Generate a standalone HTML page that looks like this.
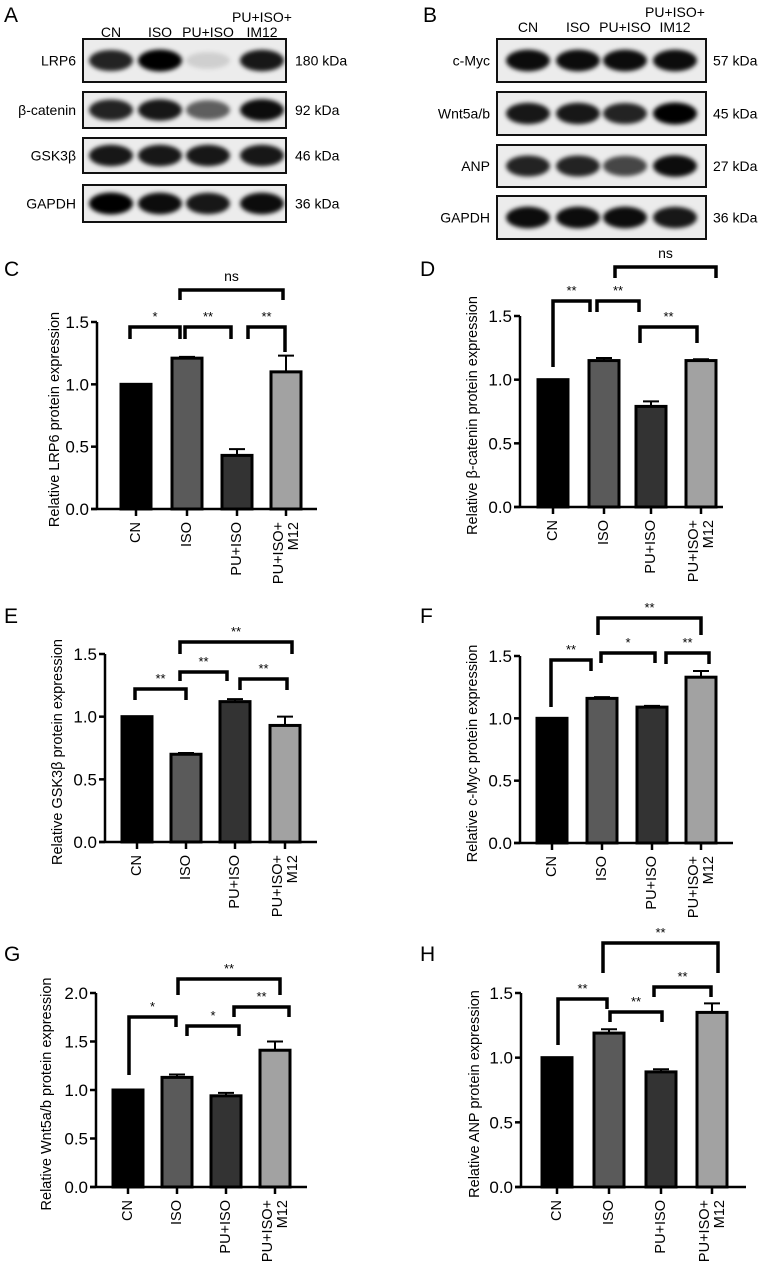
<!DOCTYPE html>
<html><head><meta charset="utf-8"><style>
body{margin:0;background:#fff;}
svg{display:block;font-family:"Liberation Sans",Arial,sans-serif;}
</style></head><body>
<svg id="fig" width="765" height="1266" viewBox="0 0 765 1266">
<defs><filter id="blur" x="-30%" y="-60%" width="160%" height="220%"><feGaussianBlur stdDeviation="2.2"/></filter></defs>
</svg>
<script>
const NS='http://www.w3.org/2000/svg';
const fig=document.getElementById('fig');
function mk(tag,attrs,parent){const e=document.createElementNS(NS,tag);for(const k in attrs)e.setAttribute(k,attrs[k]);(parent||fig).appendChild(e);return e;}
function txt(s,attrs,parent){const e=mk('text',attrs,parent);e.textContent=s;return e;}

// ---- shared categories ----
const categories=['CN','ISO','PU+ISO','PU+ISO+ M12'];
const barColors=['#000000','#5a5a5a','#333333','#a2a2a2'];

// ---- chart data ----
const cValues=[1.0,1.21,0.43,1.10];
const cErrors=[0,0.01,0.05,0.13];
const dValues=[1.0,1.15,0.79,1.15];
const dErrors=[0,0.02,0.04,0.01];
const eValues=[1.0,0.70,1.12,0.93];
const eErrors=[0,0.01,0.02,0.07];
const fValues=[1.0,1.16,1.09,1.33];
const fErrors=[0,0.01,0.01,0.05];
const gValues=[1.0,1.13,0.94,1.41];
const gErrors=[0,0.03,0.03,0.09];
const hValues=[1.0,1.19,0.89,1.35];
const hErrors=[0,0.03,0.02,0.07];
const ticks15=['0.0','0.5','1.0','1.5'];
const ticks20=['0.0','0.5','1.0','1.5','2.0'];

// ---- blot data ----
const blotALabels=['LRP6','β-catenin','GSK3β','GAPDH'];
const blotAKda=['180 kDa','92 kDa','46 kDa','36 kDa'];
const blotBLabels=['c-Myc','Wnt5a/b','ANP','GAPDH'];
const blotBKda=['57 kDa','45 kDa','27 kDa','36 kDa'];
// band intensity per lane (0..1)
const blotAIntensity=[[0.85,1.0,0.12,0.9],[0.85,0.9,0.6,0.95],[0.9,0.9,0.9,0.9],[1,0.95,0.9,0.95]];
const blotBIntensity=[[0.95,0.95,0.95,0.95],[0.9,0.9,0.85,1],[0.85,0.85,0.7,0.95],[0.95,0.95,0.95,0.9]];

function blot(panel,letter,lx,boxX,boxW,rows,lanes,headY,labels,kda,intens,kdaX){
  const g=mk('g',{});
  
  
  const L=txt(letter,{x:lx,y:22,'font-size':21},g);
  
  
  const hdr=['CN','ISO','PU+ISO','IM12'];
  hdr.forEach((h,i)=>{
    const t=txt(h,{x:lanes[i],y:headY,'font-size':14,'text-anchor':'middle'},g);
    
    
  });
  const t2=txt('PU+ISO+',{x:lanes[3],y:headY-15,'font-size':14,'text-anchor':'middle'},g);
  
  
  rows.forEach((r,ri)=>{
    const bx=mk('rect',{x:boxX,y:r[0],width:boxW,height:r[1]-r[0],fill:'#ececec',stroke:'#111','stroke-width':2},g);
    
    
    const cy=(r[0]+r[1])/2;
    lanes.forEach((lx2,li)=>{
      const v=intens[ri][li];
      const b=mk('ellipse',{cx:lx2,cy:cy,rx:22,ry:8+3*v,fill:'#000','fill-opacity':v,filter:'url(#blur)'},g);
      
      
    });
    const lb=txt(labels[ri],{x:boxX-7,y:cy+5,'font-size':14,'text-anchor':'end'},g);
    
    
    const kd=txt(kda[ri],{x:kdaX,y:cy+5,'font-size':14},g);
    
    
  });
}
blot('a','A',4,83,203,[[39,82],[92,128],[138,173],[185,222]],[111,160,208,262],37,blotALabels,blotAKda,blotAIntensity,295);
blot('b','B',423,497,209,[[39,82],[92,135],[145,187],[196,239]],[528,578,625,675],32,blotBLabels,blotBKda,blotBIntensity,713);

function chart(cfg,values,errors,tickLabels){
  const g=mk('g',{});
  
  
  const lab=txt(cfg.letter,{x:cfg.lx,y:cfg.ly,'font-size':21},g);
  
  
  const max=+tickLabels[tickLabels.length-1];
  const yS=v=>cfg.y0-(cfg.y0-cfg.yTop)*v/max;
  const xS=i=>cfg.bx[i];
  // bars
  values.forEach((v,i)=>{
    const e=errors[i];
    if(e>0){
      const ln=mk('path',{d:`M${xS(i)} ${yS(v)} V${yS(v+e)} M${xS(i)-8} ${yS(v+e)} H${xS(i)+8}`,stroke:'#000','stroke-width':2,fill:'none'},g);
      
      
    }
    const r=mk('rect',{x:xS(i)-15,y:yS(v),width:30,height:cfg.y0-yS(v),fill:barColors[i],stroke:'#000','stroke-width':3},g);
    
    
  });
  // axes
  const ya=mk('path',{d:`M${cfg.ax} ${cfg.yTop} V${cfg.y0}`,stroke:'#000','stroke-width':2.5},g);
  
  
  const xa=mk('path',{d:`M${cfg.ax-6} ${cfg.y0} H${cfg.right}`,stroke:'#000','stroke-width':2.5},g);
  
  
  tickLabels.forEach(t=>{
    const y=yS(+t);
    const tk=mk('path',{d:`M${cfg.ax-6} ${y} H${cfg.ax}`,stroke:'#000','stroke-width':2.5},g);
    
    
    const tl=txt(t,{x:cfg.ax-8,y:y+6,'font-size':17,'text-anchor':'end'},g);
    
    
  });
  categories.forEach((c,i)=>{
    const x=xS(i);
    const tk=mk('path',{d:`M${x} ${cfg.y0} V${cfg.y0+7}`,stroke:'#000','stroke-width':2.5},g);
    
    
    const parts=c.split(' ');
    const top=cfg.y0+13;
    parts.forEach((p,pi)=>{
      const dx=parts.length>1?(pi===0?-7:8):0;
      const t=txt(p,{x:0,y:0,'font-size':14.5,'text-anchor':'end','dominant-baseline':'central',transform:`translate(${x+dx},${top}) rotate(-90)`},g);
      
      
    });
  });
  const ym=(cfg.y0+cfg.yTop)/2+4;
  const yt=txt(cfg.title,{x:0,y:0,'font-size':14.5,'text-anchor':'middle','dominant-baseline':'central',transform:`translate(${cfg.tx},${ym}) rotate(-90)`},g);
  
  
  cfg.br.forEach(b=>{
    const [x1,x2,y,l1,l2,s]=b;
    const p=mk('path',{d:`M${x1} ${l1} V${y} H${x2} V${l2}`,stroke:'#000','stroke-width':3.5,fill:'none','stroke-linejoin':'miter'},g);
    
    
    const t=txt(s,{x:(x1+x2)/2,y:s==='ns'?y-9:y-6,'font-size':s==='ns'?14:13,'text-anchor':'middle'},g);
    
    
  });
}

chart({id:'c',letter:'C',lx:4,ly:276,ax:97,right:317,y0:509,yTop:322,bx:[136,187,237,286],tx:55,title:'Relative LRP6 protein expression',
  br:[[130,180,327,339,339,'*'],[185,231,327,339,339,'**'],[248,285,327,339,352,'**'],[180,283,290,300,300,'ns']]},cValues,cErrors,ticks15);
chart({id:'d',letter:'D',lx:420,ly:276,ax:520,right:723,y0:507,yTop:316,bx:[553,604,651,701],tx:473,title:'Relative β-catenin protein expression',
  br:[[553,590,301,367,312,'**'],[597,639,301,312,312,'**'],[640,697,327,343,343,'**'],[615,716,267,278,278,'ns']]},dValues,dErrors,ticks15);
chart({id:'e',letter:'E',lx:4,ly:623,ax:105,right:317,y0:842,yTop:654,bx:[137,186,235,285],tx:58,title:'Relative GSK3β protein expression',
  br:[[135,186,689,700,700,'**'],[180,227,672,681,681,'**'],[240,287,679,690,690,'**'],[180,292,642,654,654,'**']]},eValues,eErrors,ticks15);
chart({id:'f',letter:'F',lx:420,ly:623,ax:520,right:733,y0:843,yTop:656,bx:[552,602,652,701],tx:473,title:'Relative c-Myc protein expression',
  br:[[551,591,660,707,671,'**'],[601,655,653,663,663,'*'],[666,709,653,664,664,'**'],[598,701,618,635,635,'**']]},fValues,fErrors,ticks15);
chart({id:'g',letter:'G',lx:4,ly:961,ax:96,right:307,y0:1187,yTop:993,bx:[128,177,226,275],tx:47,title:'Relative Wnt5a/b protein expression',
  br:[[129,176,1017,1075,1027,'*'],[187,239,1026,1036,1036,'*'],[234,289,1007,1017,1017,'**'],[178,280,979,995,995,'**']]},gValues,gErrors,ticks20);
chart({id:'h',letter:'H',lx:420,ly:961,ax:521,right:746,y0:1187,yTop:993,bx:[557,609,661,712],tx:475,title:'Relative ANP protein expression',
  br:[[558,607,999,1045,1009,'**'],[610,662,1012,1022,1022,'**'],[654,711,987,997,997,'**'],[603,718,943,973,973,'**']]},hValues,hErrors,ticks15);
</script>
</body></html>
